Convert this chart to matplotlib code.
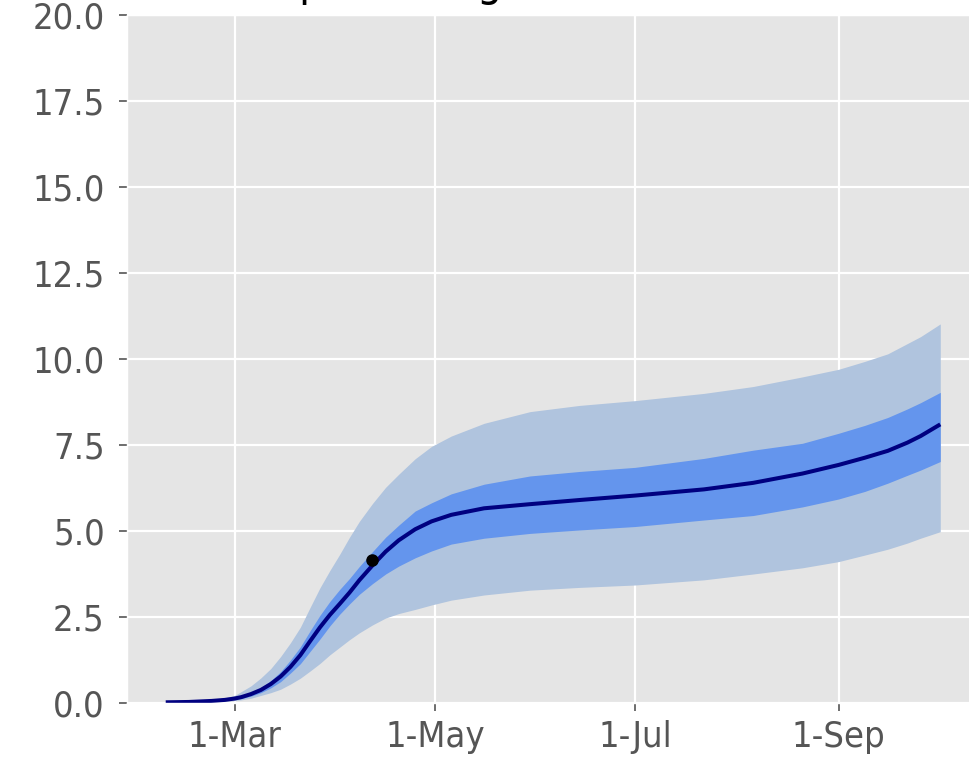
import matplotlib
matplotlib.use("Agg")
import matplotlib.pyplot as plt
import matplotlib.dates as mdates
from matplotlib.font_manager import FontProperties
import numpy as np
import pandas as pd

plt.style.use("ggplot")

# days counted from 1 March 2020
days = [-21, -14, -7, -3, 0, 2, 5, 8, 11, 14, 17, 20, 23, 26, 29, 32, 35, 38,
        42, 46, 50, 55, 60, 66, 76, 90, 105, 122, 143, 158, 173, 184, 192,
        199, 205, 209, 215]
median = [0.02, 0.03, 0.06, 0.09, 0.13, 0.17, 0.26, 0.38, 0.55, 0.77, 1.05,
          1.39, 1.80, 2.20, 2.56, 2.88, 3.21, 3.57, 4.00, 4.40, 4.73, 5.05,
          5.28, 5.47, 5.66, 5.78, 5.90, 6.03, 6.21, 6.40, 6.67, 6.92, 7.13,
          7.33, 7.57, 7.76, 8.10]
inner_hi = [0.02, 0.04, 0.07, 0.11, 0.15, 0.20, 0.30, 0.45, 0.65, 0.91, 1.25,
            1.63, 2.10, 2.55, 2.95, 3.30, 3.62, 3.97, 4.40, 4.82, 5.17, 5.58,
            5.82, 6.08, 6.36, 6.60, 6.73, 6.85, 7.11, 7.35, 7.55, 7.84, 8.07,
            8.30, 8.55, 8.73, 9.03]
inner_lo = [0.01, 0.02, 0.05, 0.07, 0.10, 0.13, 0.20, 0.30, 0.44, 0.62, 0.87,
            1.14, 1.50, 1.86, 2.24, 2.58, 2.88, 3.16, 3.47, 3.75, 3.98, 4.22,
            4.42, 4.62, 4.79, 4.93, 5.03, 5.13, 5.32, 5.45, 5.70, 5.93, 6.15,
            6.39, 6.62, 6.77, 7.02]
outer_hi = [0.03, 0.05, 0.10, 0.15, 0.22, 0.33, 0.50, 0.73, 1.00, 1.35, 1.75,
            2.20, 2.78, 3.35, 3.85, 4.32, 4.82, 5.28, 5.80, 6.27, 6.65, 7.10,
            7.46, 7.76, 8.13, 8.47, 8.65, 8.79, 9.00, 9.20, 9.48, 9.70, 9.93,
            10.15, 10.45, 10.65, 11.02]
outer_lo = [0.01, 0.02, 0.03, 0.05, 0.07, 0.09, 0.14, 0.22, 0.30, 0.40, 0.55,
            0.72, 0.93, 1.15, 1.40, 1.62, 1.84, 2.04, 2.27, 2.47, 2.60, 2.72,
            2.85, 2.99, 3.14, 3.28, 3.36, 3.43, 3.58, 3.75, 3.93, 4.11, 4.30,
            4.47, 4.65, 4.79, 4.98]

obs_date = ["2020-04-12"]
obs_value = [4.15]

title = "Cumulative percentage infected"

dates = pd.Timestamp("2020-03-01") + pd.to_timedelta(days, unit="D")

fnt = dict(family="DejaVu Sans", stretch="condensed")

fig = plt.figure(figsize=(9.7, 7.57), dpi=100)
ax = fig.add_axes([127 / 970, 54 / 757, 852 / 970, 688 / 757])

ax.fill_between(dates, outer_lo, outer_hi, color="lightsteelblue", lw=0)
ax.fill_between(dates, inner_lo, inner_hi, color="cornflowerblue", lw=0)
ax.plot(dates, median, color="navy", lw=2.9, solid_capstyle="butt")
ax.plot(pd.to_datetime(obs_date), obs_value, "o", color="black", ms=8)

ax.set_ylim(0, 20)
yt = np.arange(0, 20.1, 2.5)
ax.set_yticks(yt)
ax.set_yticklabels([f"{v:.1f}" for v in yt], **fnt)
ax.xaxis.set_major_locator(mdates.MonthLocator(bymonth=[3, 5, 7, 9]))
ax.xaxis.set_major_formatter(mdates.DateFormatter("%-d-%b"))
for lab in ax.get_xticklabels():
    lab.set_fontproperties(FontProperties(**fnt))

ax.tick_params(axis="both", labelsize=26, colors="#555555", length=6, width=1.2)
ax.tick_params(axis="y", pad=10)
ax.tick_params(axis="x", pad=6)
ax.grid(True, color="white", lw=1.6)
ax.set_axisbelow(True)

# title sits mostly above the visible area, as in the source image
fig.text(58 / 970, 1 + 4 / 757, title, fontsize=32, ha="left", va="baseline", **fnt)

fig.savefig("out.png", dpi=100)
